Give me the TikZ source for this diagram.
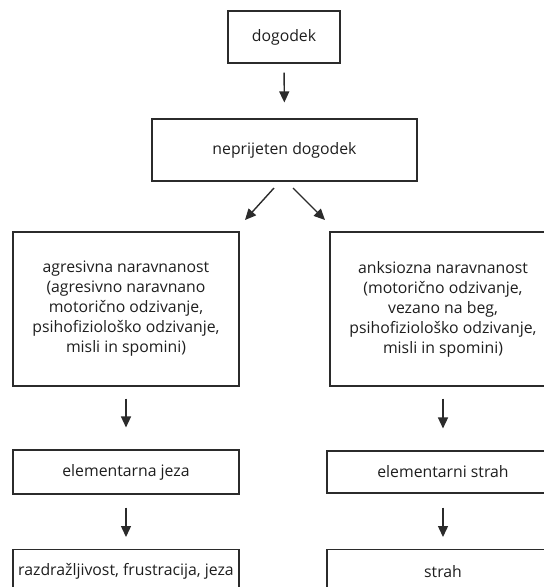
\documentclass[tikz,border=0pt]{standalone}
\usepackage{fontspec}
\setmainfont{Open Sans}
\usetikzlibrary{arrows.meta}
\definecolor{linec}{HTML}{2B2B2B}
\definecolor{textc}{HTML}{1E1E1E}
\tikzset{
  box/.style={draw=linec, line width=1.1pt, text=textc, align=center, inner sep=0pt,
    font=\fontsize{15.8}{20}\selectfont},
  arr/.style={draw=linec, line width=1.4pt, -{Triangle[length=11pt,width=10pt]}},
}
\begin{document}
\begin{tikzpicture}[x=1pt,y=-1pt]
\useasboundingbox (0,0) rectangle (544,587);
\node[box, minimum width=112pt, minimum height=52pt] (n1) at (284,37) {dogodek};
\node[box, minimum width=265pt, minimum height=62pt] (n2) at (284.5,150) {neprijeten dogodek};
\node[box, minimum width=226pt, minimum height=154pt] (l1) at (126,309)
  {\raisebox{4pt}{\parbox{220pt}{\centering agresivna naravnanost\\(agresivno naravnano\\motorično odzivanje,\\psihofiziološko odzivanje,\\misli in spomini)}}};
\node[box, minimum width=226pt, minimum height=154pt] (r1) at (443,309)
  {\raisebox{4pt}{\parbox{220pt}{\centering anksiozna naravnanost\\(motorično odzivanje,\\vezano na beg,\\psihofiziološko odzivanje,\\misli in spomini)}}};
\node[box, minimum width=226pt, minimum height=44pt] (l2) at (126,472) {elementarna jeza};
\node[box, minimum width=232pt, minimum height=42pt] (r2) at (443,472) {elementarni strah};
\node[box, minimum width=226pt, minimum height=44pt, anchor=north] (l3) at (126,549) {\raisebox{-10pt}{razdražljivost, frustracija, jeza}};
\node[box, minimum width=232pt, minimum height=44pt, anchor=north] (r3) at (443,549) {\raisebox{-10pt}{strah}};
\coordinate (dl1) at (274,188);
\coordinate (dl2) at (245,220);
\coordinate (dr1) at (293,188);
\coordinate (dr2) at (325,220);
\draw[arr, shorten <=9pt, shorten >=16pt] (n1.south) -- (n2.north);
\draw[arr] (dl1) -- (dl2);
\draw[arr] (dr1) -- (dr2);
\draw[arr, shorten <=12pt, shorten >=22pt] (l1.south) -- (l2.north);
\draw[arr, shorten <=12pt, shorten >=22pt] (r1.south) -- (r2.north);
\draw[arr, shorten <=13pt, shorten >=12pt] (l2.south) -- (l3.north);
\draw[arr, shorten <=14pt, shorten >=12pt] (r2.south) -- (r3.north);
\end{tikzpicture}
\end{document}
